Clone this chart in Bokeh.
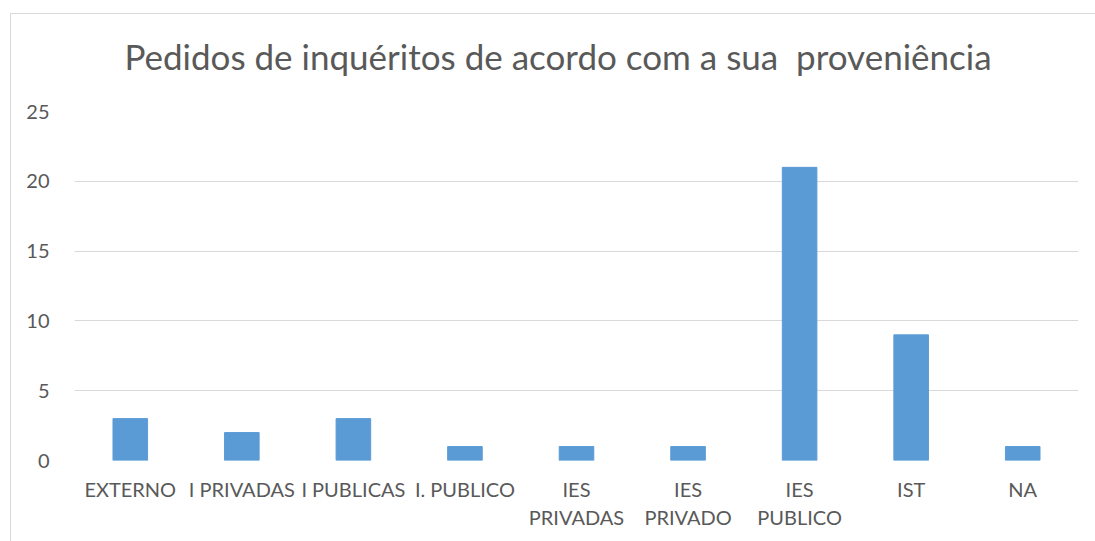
from bokeh.plotting import figure
from bokeh.models import FixedTicker, Range1d, Div
from bokeh.layouts import column
from bokeh.embed import file_html
from bokeh.resources import INLINE

categories = ["EXTERNO", "I PRIVADAS", "I PUBLICAS", "I. PUBLICO",
              "IES PRIVADAS", "IES PRIVADO", "IES PUBLICO", "IST", "NA"]
values = [3, 2, 3, 1, 1, 1, 21, 9, 1]
wrapped = {"IES PRIVADAS": "IES\nPRIVADAS", "IES PRIVADO": "IES\nPRIVADO",
           "IES PUBLICO": "IES\nPUBLICO"}
y_ticks = [0, 5, 10, 15, 20, 25]
title_text = "Pedidos de inquéritos de acordo com a sua  proveniência"

factors = [wrapped.get(c, c) for c in categories]

FONT = "Lato"
GREY = "#595959"

title = Div(text=title_text, width=1084, height=70, margin=0,
            styles={"font-family": FONT, "font-size": "35px", "color": GREY,
                    "text-align": "center", "white-space": "pre",
                    "padding-top": "21px", "padding-left": "10px",
                    "line-height": "1.2", "box-sizing": "border-box"})

p = figure(x_range=factors, y_range=Range1d(0, 25), width=1084, height=457,
           output_backend="svg", toolbar_location=None,
           min_border_left=63, min_border_right=17, min_border_top=27,
           min_border_bottom=81)

p.vbar(x=factors, top=values, width=0.31, color="#5b9bd5", line_color="#5b9bd5")

p.outline_line_color = None
p.xgrid.grid_line_color = None
p.ygrid.grid_line_color = "#d9d9d9"
p.ygrid.grid_line_width = 1

p.yaxis.ticker = FixedTicker(ticks=y_ticks)
p.yaxis.axis_line_color = None
p.yaxis.major_tick_line_color = None
p.yaxis.minor_tick_line_color = None
p.yaxis.major_label_text_font = FONT
p.yaxis.major_label_text_font_size = "20px"
p.yaxis.major_label_text_color = GREY
p.yaxis.major_label_standoff = 19

p.xaxis.axis_line_color = None
p.xaxis.major_tick_line_color = None
p.xaxis.minor_tick_line_color = None
p.xaxis.major_label_text_font = FONT
p.xaxis.major_label_text_font_size = "20px"
p.xaxis.major_label_text_color = GREY
p.xaxis.major_label_text_line_height = 1.2
p.xaxis.major_label_standoff = 10

layout = column(title, p, spacing=0)
layout.styles = {"margin-left": "10px", "margin-top": "13px",
                 "border-left": "1px solid #d9d9d9", "border-top": "1px solid #d9d9d9"}

open("out.html", "w").write(file_html(layout, INLINE))
